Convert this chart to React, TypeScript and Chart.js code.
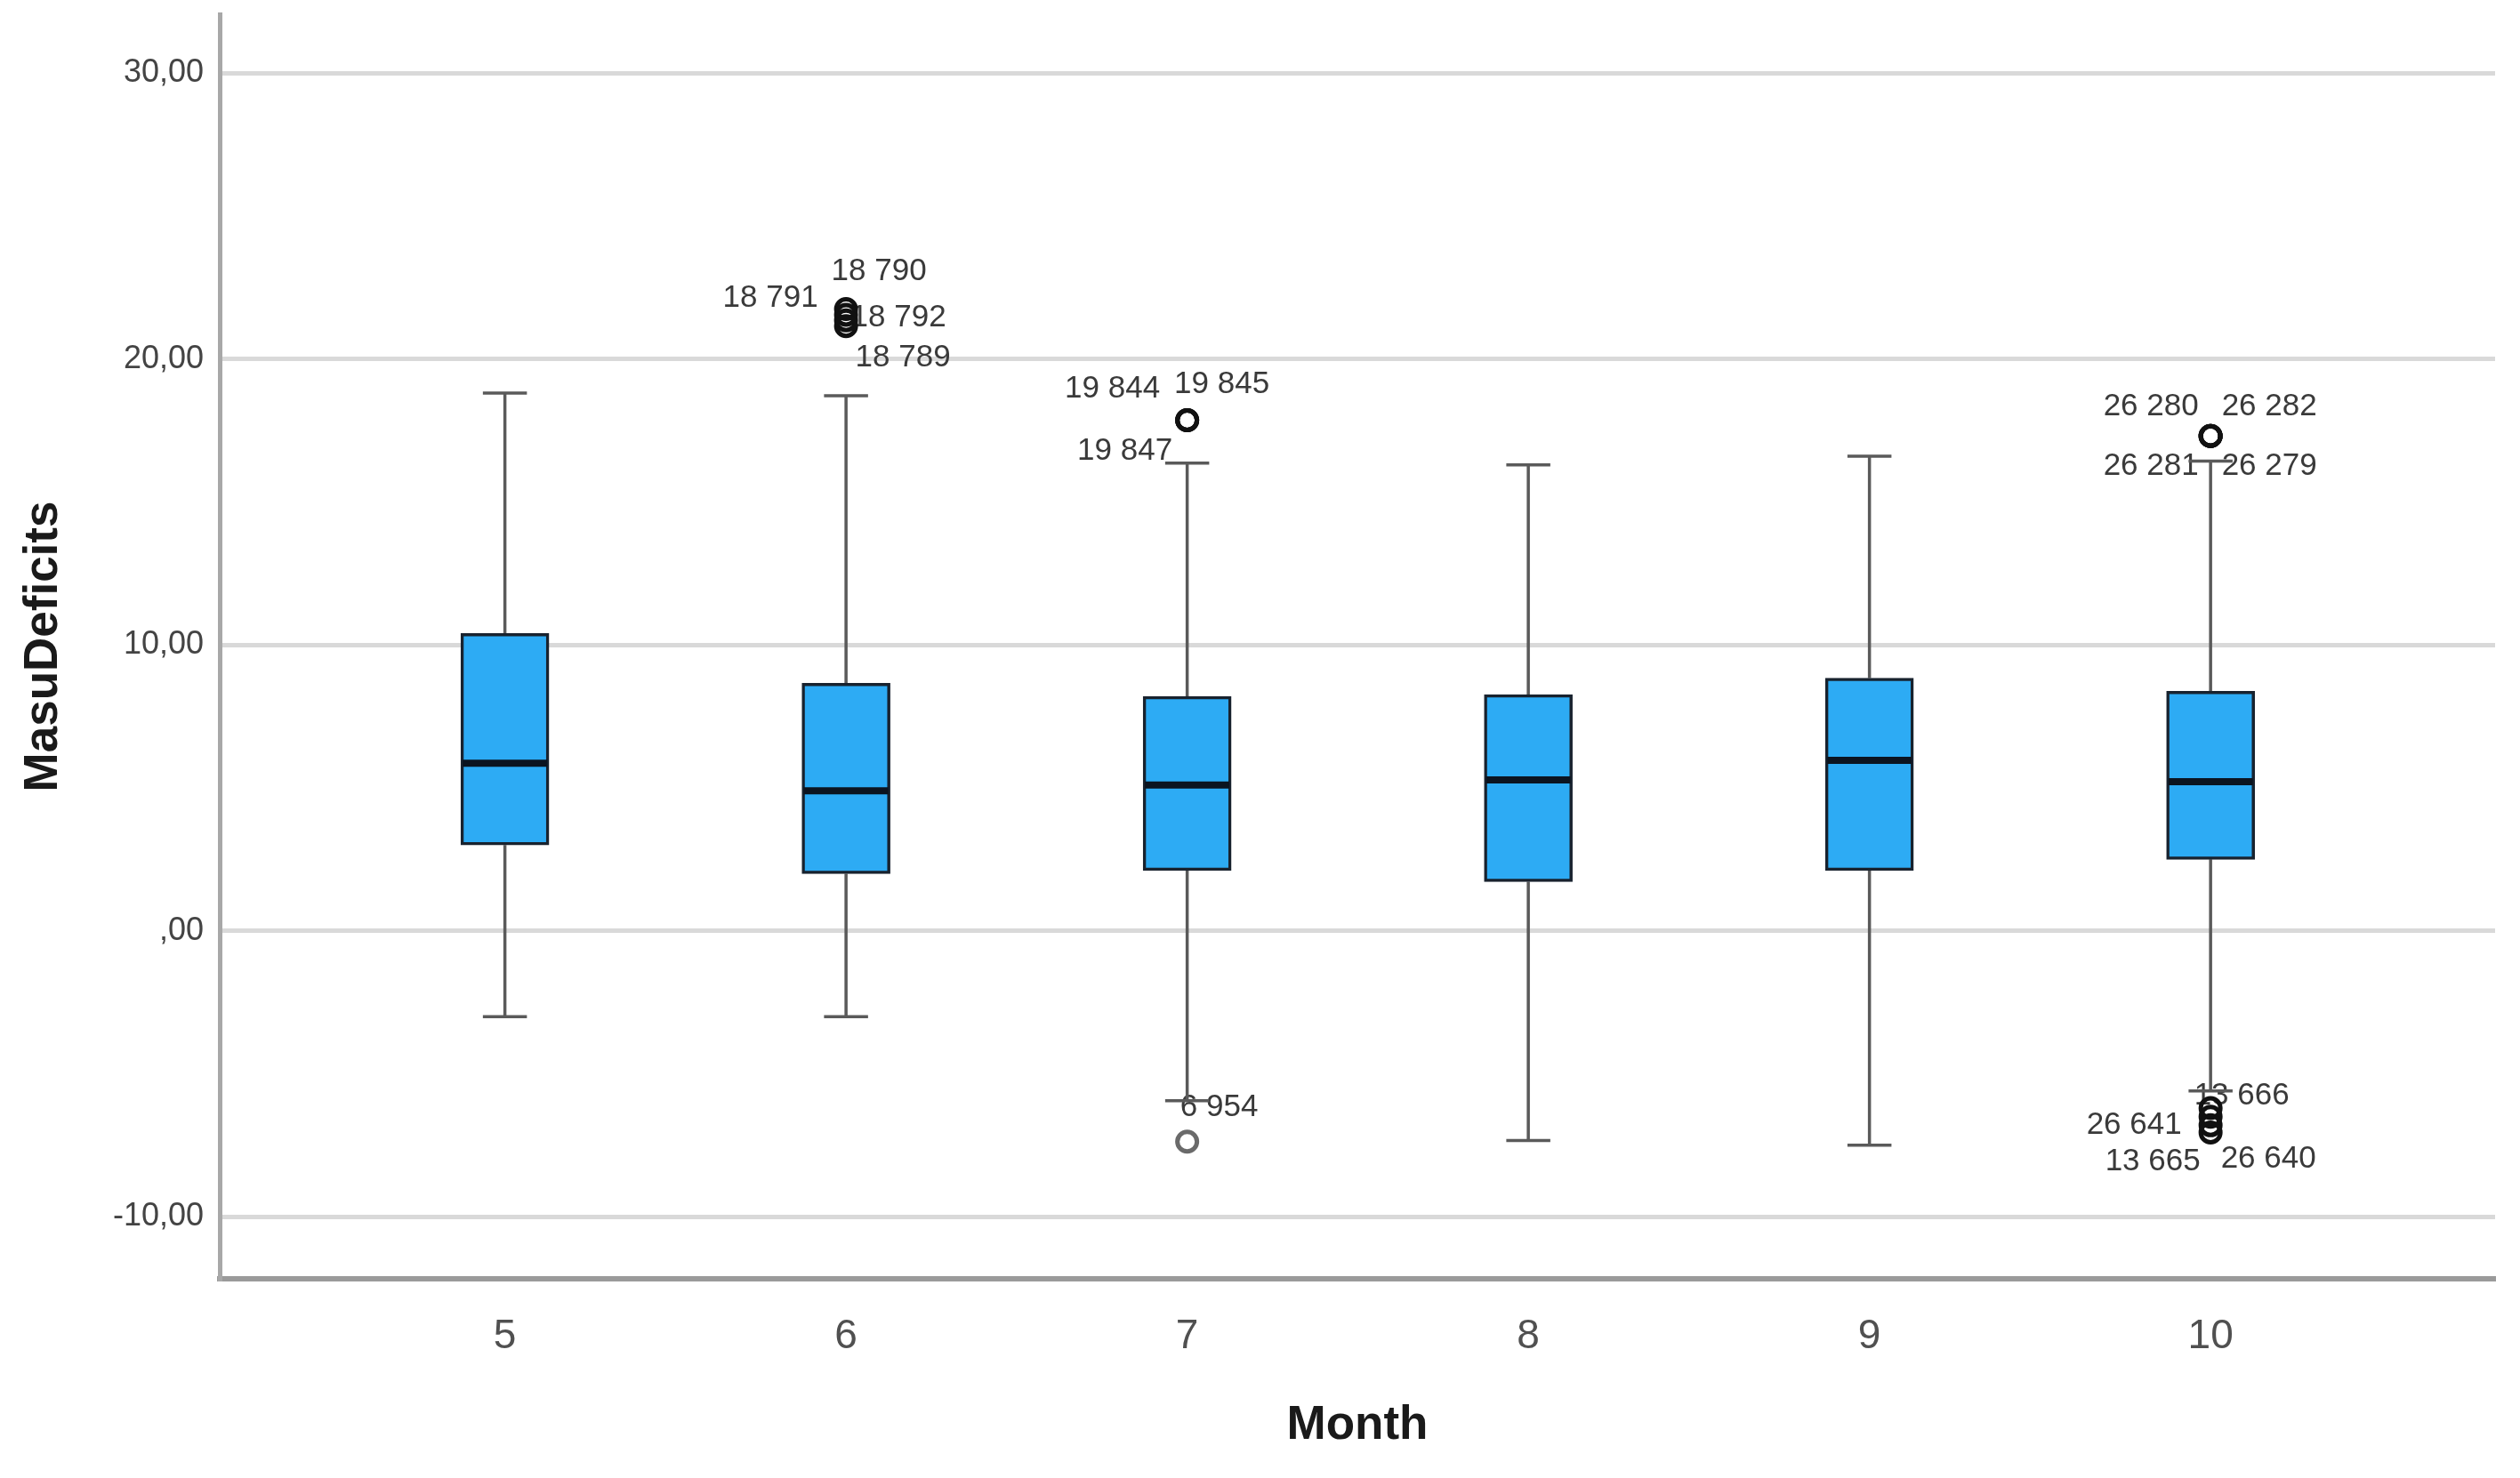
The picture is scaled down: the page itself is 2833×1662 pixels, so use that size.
import { useEffect, useRef } from 'react';
import { Chart, registerables } from 'chart.js';

Chart.register(...registerables);

// ---------- data ----------
const months = [5, 6, 7, 8, 9, 10];
const monthLabels = ['5', '6', '7', '8', '9', '10'];
const whiskerLow = [-3.0, -3.0, -5.94, -7.33, -7.5, -5.6];
const q1 = [3.0, 2.0, 2.11, 1.72, 2.11, 2.5];
const medians = [5.86, 4.9, 5.1, 5.28, 5.96, 5.22];
const q3 = [10.4, 8.66, 8.2, 8.26, 8.84, 8.38];
const whiskerHigh = [18.81, 18.72, 16.36, 16.3, 16.6, 16.43];

const outlierMonths = [6, 6, 6, 6, 7, 7, 7, 7, 10, 10, 10, 10, 10, 10, 10, 10];
const outlierValues = [21.75, 21.55, 21.35, 21.15, 17.86, 17.86, 17.86, -7.37, 17.31, 17.31, 17.31, 17.31, -6.2, -6.5, -6.8, -7.05];
const outlierLabels = [
  '18 790', '18 791', '18 792', '18 789',
  '19 844', '19 845', '19 847', '6 954',
  '26 280', '26 282', '26 281', '26 279',
  '13 666', '26 641', '13 665', '26 640',
];
// label placement relative to its point (pixels)
const outlierLabelOffsets: [number, number][] = [
  [37, -42], [-85, -19], [59, -3], [64, 36],
  [-84, -35], [39, -40], [-70, 35], [36, -38],
  [-67, -33], [66, -33], [-67, 34], [66, 34],
  [35, -14], [-86, 10], [-65, 41], [65, 30],
];

const yTickValues = [-10, 0, 10, 20, 30];
const yTickLabels = ['-10,00', ',00', '10,00', '20,00', '30,00'];

const yTitle = 'MasuDeficits';
const xTitle = 'Month';

const FONT = '"Liberation Sans", Arial, Helvetica, sans-serif';

const boxPlotPlugin = {
  id: 'boxplotExtras',
  beforeDatasetsDraw(chart: any) {
    const { ctx, scales } = chart;
    const x = scales.x;
    const y = scales.y;
    ctx.save();
    // outlier labels (drawn underneath marks)
    ctx.font = `35px ${FONT}`;
    ctx.fillStyle = '#3a3a3a';
    ctx.textAlign = 'center';
    ctx.textBaseline = 'middle';
    outlierLabels.forEach((t, i) => {
      const px = x.getPixelForValue(outlierMonths[i]) + outlierLabelOffsets[i][0];
      const py = y.getPixelForValue(outlierValues[i]) + outlierLabelOffsets[i][1];
      ctx.fillText(t, px, py);
    });
    // whiskers
    ctx.strokeStyle = '#5a5a5a';
    ctx.lineWidth = 3.5;
    const meta = chart.getDatasetMeta(0);
    months.forEach((m, i) => {
      const cx = x.getPixelForValue(m);
      const bw = meta.data[i] ? meta.data[i].width : 98;
      const cap = bw / 4;
      const yHi = y.getPixelForValue(whiskerHigh[i]);
      const yQ3 = y.getPixelForValue(q3[i]);
      const yLo = y.getPixelForValue(whiskerLow[i]);
      const yQ1 = y.getPixelForValue(q1[i]);
      ctx.beginPath();
      ctx.moveTo(cx, yQ3);
      ctx.lineTo(cx, yHi);
      ctx.moveTo(cx - cap, yHi);
      ctx.lineTo(cx + cap, yHi);
      ctx.moveTo(cx, yQ1);
      ctx.lineTo(cx, yLo);
      ctx.moveTo(cx - cap, yLo);
      ctx.lineTo(cx + cap, yLo);
      ctx.stroke();
    });
    ctx.restore();
  },
  afterDatasetsDraw(chart: any) {
    const { ctx, scales } = chart;
    const y = scales.y;
    const meta = chart.getDatasetMeta(0);
    ctx.save();
    ctx.strokeStyle = '#0b1420';
    ctx.lineWidth = 8;
    months.forEach((_m, i) => {
      const el = meta.data[i];
      if (!el) return;
      const half = el.width / 2 - 2;
      const py = y.getPixelForValue(medians[i]);
      ctx.beginPath();
      ctx.moveTo(el.x - half, py);
      ctx.lineTo(el.x + half, py);
      ctx.stroke();
    });
    ctx.restore();
  },
};

export default function App() {
  const canvasRef = useRef<HTMLCanvasElement | null>(null);

  useEffect(() => {
    if (!canvasRef.current) return;
    Chart.defaults.font.family = FONT;
    const chart = new Chart(canvasRef.current, {
      type: 'bar',
      data: {
        datasets: [
          {
            type: 'bar',
            data: months.map((m, i) => ({ x: m, y: [q1[i], q3[i]] })) as any,
            backgroundColor: 'rgb(45,171,244)',
            borderColor: '#18222e',
            borderWidth: 3.5,
            borderSkipped: false,
            barThickness: 99,
            order: 2,
          } as any,
          {
            type: 'scatter',
            data: outlierMonths.map((m, i) => ({ x: m, y: outlierValues[i] })),
            pointRadius: 11,
            pointBorderWidth: 5,
            pointBorderColor: (c: any) => (c.dataIndex === 7 ? '#6a6a6a' : '#111111'),
            pointBackgroundColor: 'rgba(0,0,0,0)',
            showLine: false,
            order: 1,
          } as any,
        ],
      },
      options: {
        animation: false,
        responsive: true,
        maintainAspectRatio: false,
        devicePixelRatio: 1,
        layout: { padding: { top: 8, right: 28, bottom: 0, left: 0 } },
        plugins: {
          legend: { display: false },
          tooltip: { enabled: false },
        },
        scales: {
          x: {
            type: 'linear',
            min: 4.164,
            max: 10.834,
            offset: false,
            grid: { display: false, drawTicks: false },
            border: { display: true, color: '#9a9a9a', width: 6 },
            afterBuildTicks: (scale: any) => {
              scale.ticks = months.map((v) => ({ value: v }));
            },
            afterFit: (scale: any) => {
              scale.height = 224;
              scale.paddingLeft = 0;
              scale.paddingRight = 0;
            },
            ticks: {
              autoSkip: false,
              maxRotation: 0,
              padding: 38,
              color: '#505050',
              font: { size: 46, family: FONT },
              callback: (v: any) => {
                const idx = months.indexOf(Number(v));
                return idx >= 0 ? monthLabels[idx] : '';
              },
            },
            title: {
              display: true,
              text: xTitle,
              color: '#1a1a1a',
              font: { size: 53, weight: 'bold', family: FONT },
              padding: { top: 0, bottom: 27 },
            },
          },
          y: {
            type: 'linear',
            min: -12.17,
            max: 32.06,
            grid: { color: '#d9d9d9', lineWidth: 5, drawTicks: false },
            border: { display: true, color: '#a8a8a8', width: 5 },
            afterBuildTicks: (scale: any) => {
              scale.ticks = yTickValues.map((v) => ({ value: v }));
            },
            afterFit: (scale: any) => {
              scale.width = 247;
              scale.paddingTop = 0;
              scale.paddingBottom = 0;
            },
            ticks: {
              autoSkip: false,
              padding: 18,
              color: '#444444',
              font: { size: 36, family: FONT },
              callback: (v: any) => {
                const idx = yTickValues.indexOf(Number(v));
                return idx >= 0 ? yTickLabels[idx] : '';
              },
            },
            title: {
              display: true,
              text: yTitle,
              color: '#1a1a1a',
              font: { size: 53, weight: 'bold', family: FONT },
              padding: { top: 18, bottom: 0 },
            },
          },
        },
      } as any,
      plugins: [boxPlotPlugin],
    });
    return () => chart.destroy();
  }, []);

  return (
    <div style={{ position: 'fixed', left: 0, top: 0, width: '2833px', height: '1662px', background: '#ffffff' }}>
      <canvas ref={canvasRef} />
    </div>
  );
}
